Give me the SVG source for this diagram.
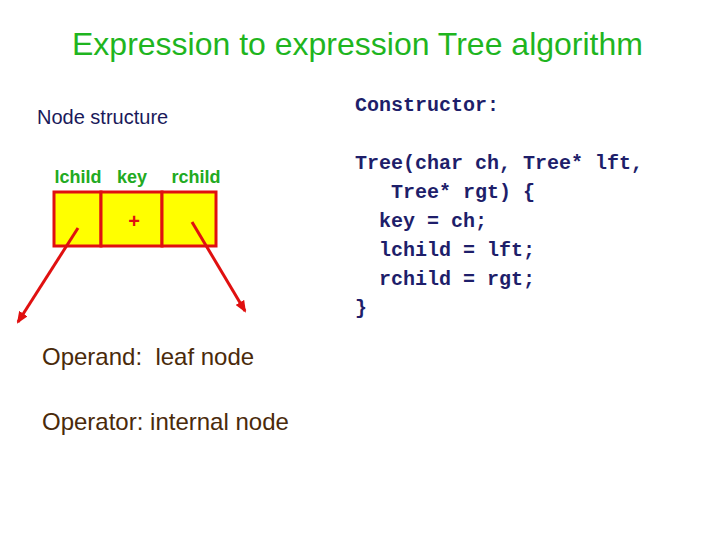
<svg xmlns="http://www.w3.org/2000/svg" width="720" height="540" viewBox="0 0 720 540">
<style>
.title{font-family:"Liberation Sans",Arial,sans-serif;font-size:32px;fill:#1fb51f}
.lbl{font-family:"Liberation Sans",Arial,sans-serif;font-size:18px;font-weight:bold;fill:#22aa22}
.sans{font-family:"Liberation Sans",Arial,sans-serif}
.code{font-family:"Liberation Mono","Courier New",monospace;font-size:20px;font-weight:bold;fill:#1e1e6a}
.cell{fill:#ffff00;stroke:#e01010;stroke-width:3}
.arrow{stroke:#e01010;stroke-width:3;fill:none;marker-end:url(#ah)}
</style>
<defs>
<marker id="ah" markerWidth="12" markerHeight="10" refX="10" refY="5" orient="auto" markerUnits="userSpaceOnUse">
<path d="M0,0 L12,5 L0,10 z" fill="#e01010"/>
</marker>
</defs>
<rect width="720" height="540" fill="#ffffff"/>
<text class="title" x="72" y="55">Expression to expression Tree algorithm</text>
<text class="sans" x="37" y="124" font-size="20" fill="#1a1a5a">Node structure</text>
<g id="node">
<rect class="cell" x="54" y="192" width="47" height="54"/>
<rect class="cell" x="101" y="192" width="61" height="54"/>
<rect class="cell" x="162" y="192" width="54" height="54"/>
<text class="lbl" x="78" y="183" text-anchor="middle">lchild</text>
<text class="lbl" x="132" y="183" text-anchor="middle">key</text>
<text class="lbl" x="196" y="183" text-anchor="middle">rchild</text>
<text class="sans" x="134" y="228" text-anchor="middle" font-size="20" font-weight="bold" fill="#e01010">+</text>
</g>
<g id="connectors">
<line class="arrow" x1="78" y1="228" x2="18" y2="322"/>
<line class="arrow" x1="192" y1="222" x2="245" y2="311"/>
</g>
<text class="sans" x="42" y="365" font-size="24" fill="#4a2a0a" xml:space="preserve">Operand:  leaf node</text>
<text class="sans" x="42" y="430" font-size="24" fill="#4a2a0a">Operator: internal node</text>
<g id="code">
<text class="code" x="355" y="111">Constructor:</text>
<text class="code" x="355" y="169">Tree(char ch, Tree* lft,</text>
<text class="code" x="391" y="198">Tree* rgt) {</text>
<text class="code" x="379" y="227">key = ch;</text>
<text class="code" x="379" y="256">lchild = lft;</text>
<text class="code" x="379" y="285">rchild = rgt;</text>
<text class="code" x="355" y="314">}</text>
</g>
</svg>
